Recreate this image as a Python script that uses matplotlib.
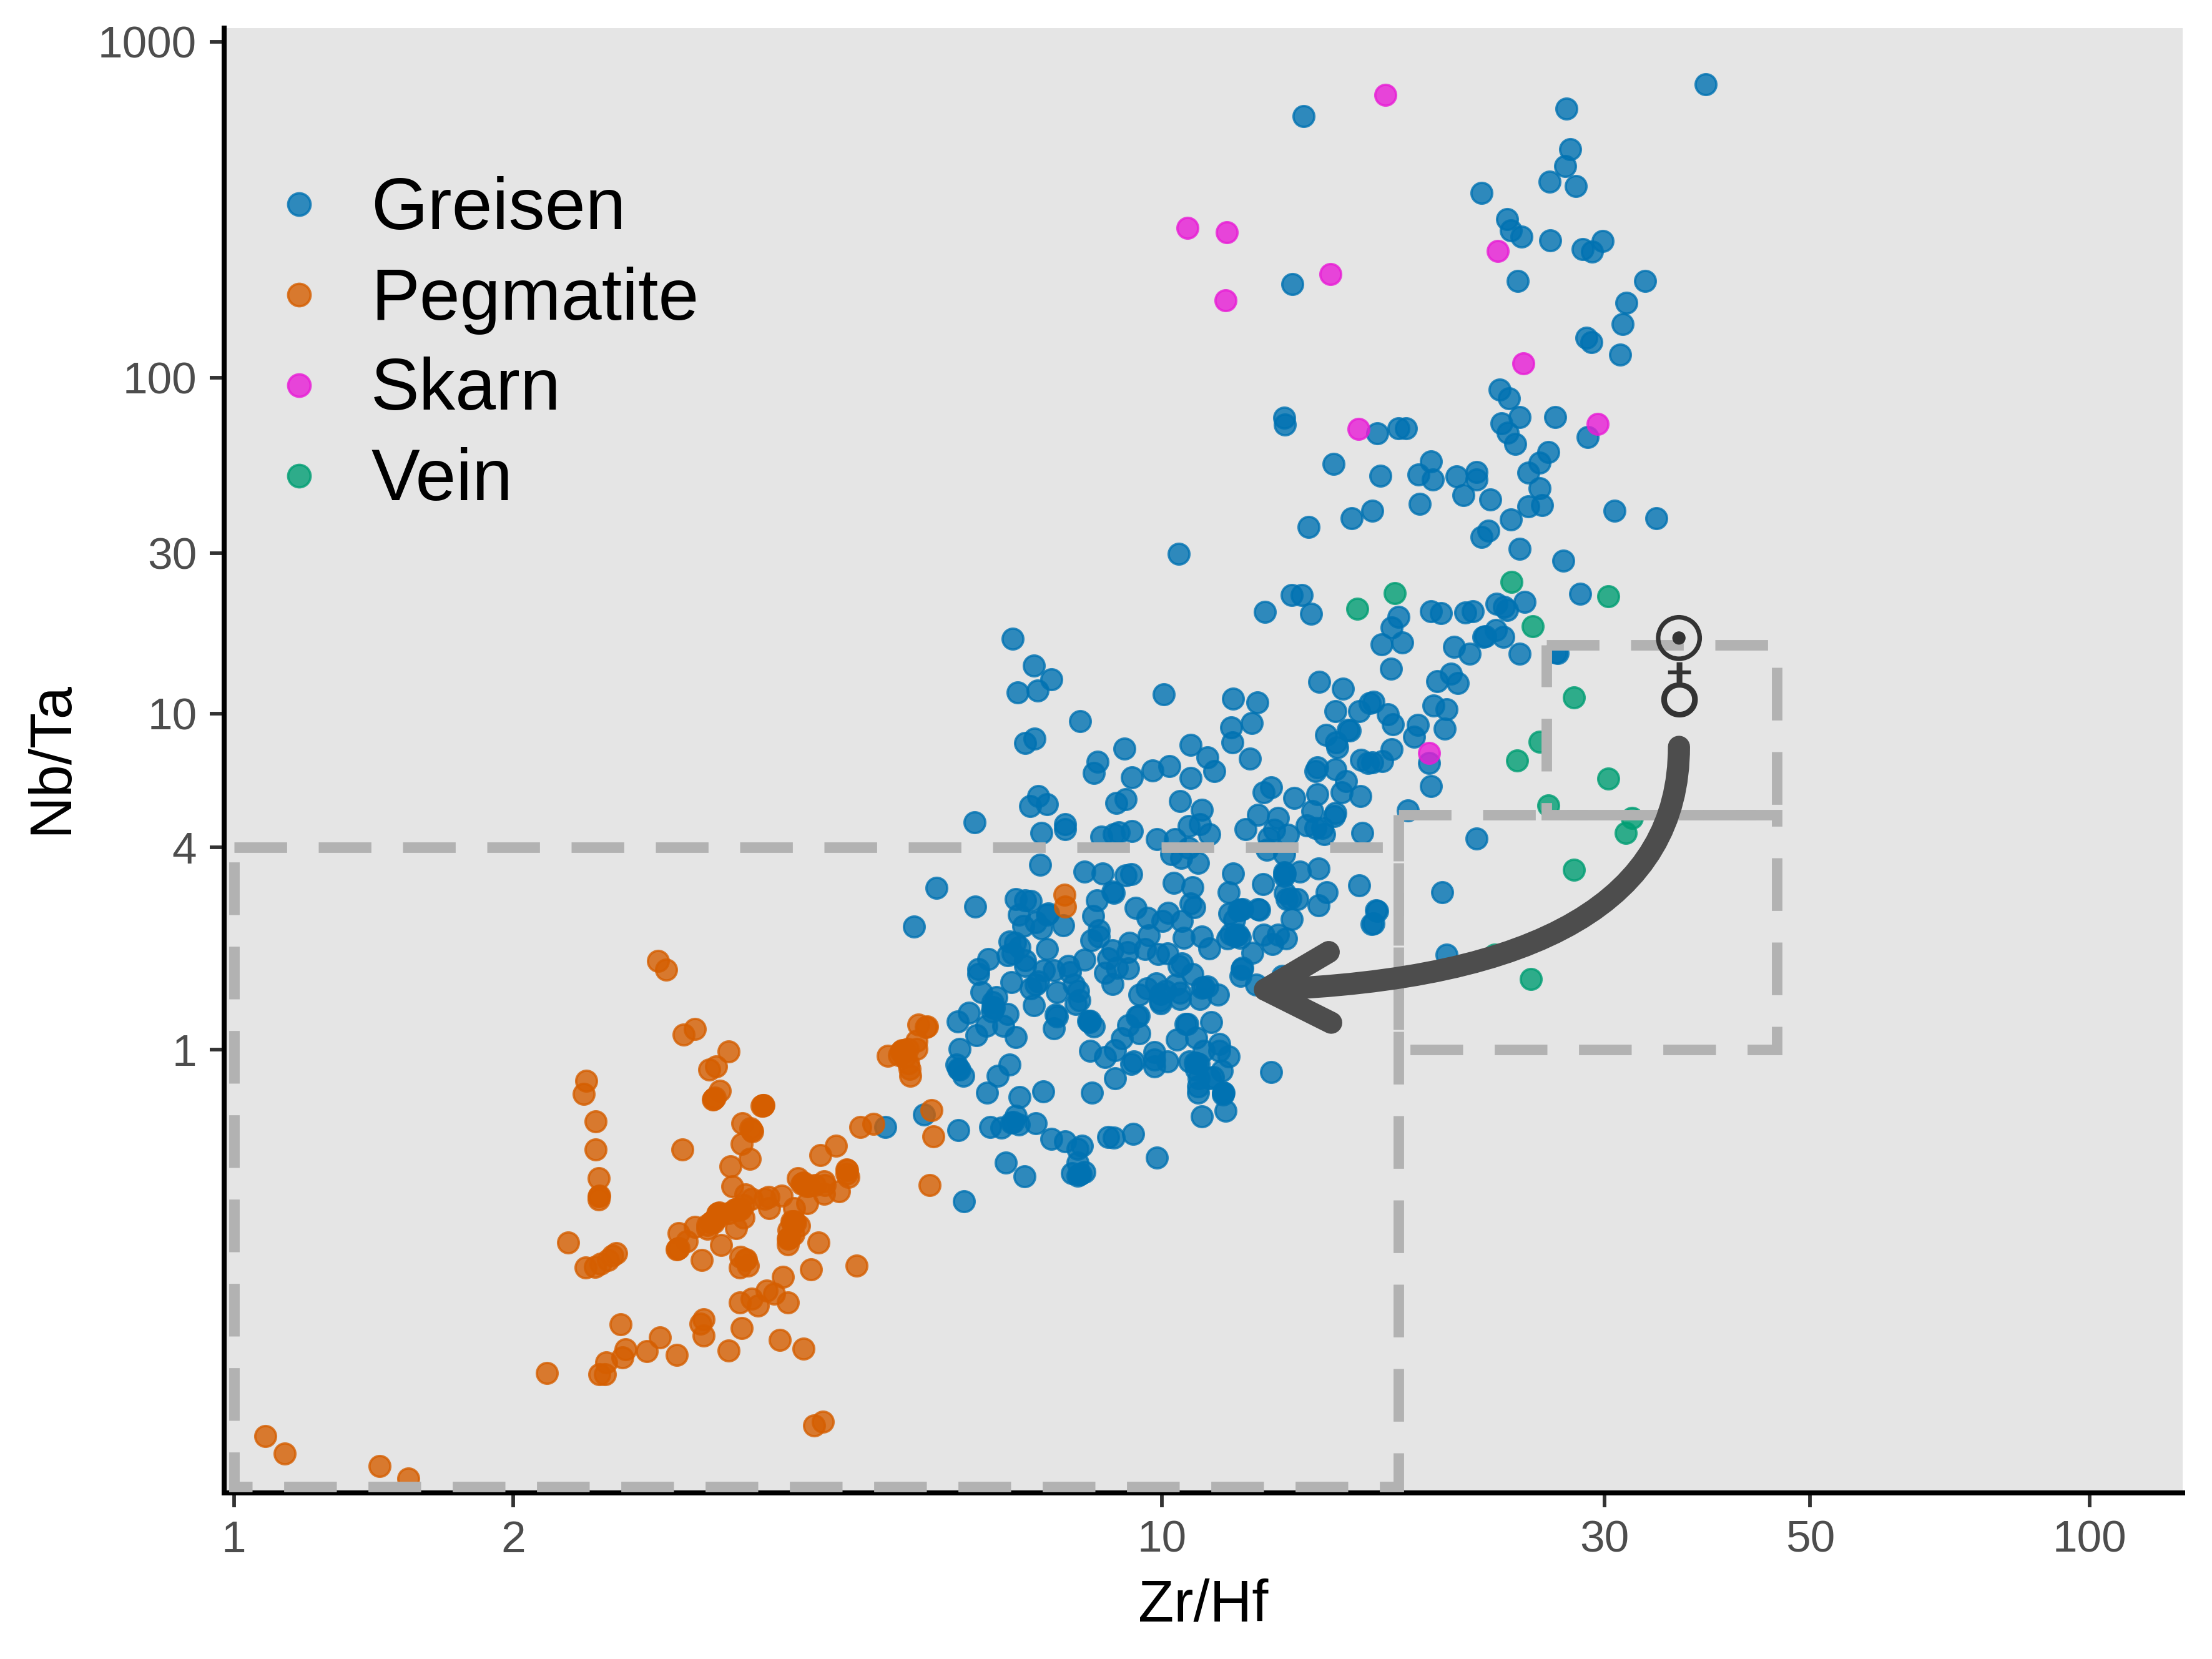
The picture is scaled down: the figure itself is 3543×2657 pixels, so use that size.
import numpy as np
import matplotlib
matplotlib.use("Agg")
import matplotlib.pyplot as plt
import matplotlib.patheffects as pe

plt.rcParams['font.family'] = ['Liberation Sans', 'DejaVu Sans']

# values, stored as [log10 Zr/Hf, log10 Nb/Ta]
greisen = np.array([
[1.153,2.779],[1.586,2.874],[1.436,2.801],[1.440,2.680],[1.435,2.630],[1.418,2.584],[1.446,2.570],[1.345,2.550],
[1.372,2.472],[1.376,2.439],[1.388,2.420],[1.419,2.409],[1.454,2.383],[1.464,2.375],[1.475,2.407],[1.384,2.288],
[1.521,2.288],[1.501,2.223],[1.497,2.160],[1.458,2.119],[1.463,2.106],[1.494,2.069],[1.141,2.279],[1.364,1.965],
[1.374,1.938],[1.386,1.883],[1.424,1.883],[1.366,1.864],[1.373,1.836],[1.381,1.803],[1.459,1.823],[1.132,1.881],
[1.133,1.861],[1.232,1.835],[1.255,1.849],[1.263,1.849],[1.185,1.743],[1.236,1.708],[1.290,1.751],[1.277,1.712],
[1.292,1.697],[1.318,1.706],[1.339,1.719],[1.339,1.697],[1.417,1.779],[1.407,1.747],[1.395,1.717],[1.407,1.671],
[1.325,1.651],[1.354,1.638],[1.278,1.625],[1.395,1.617],[1.410,1.621],[1.376,1.578],[1.227,1.604],[1.205,1.582],
[1.158,1.556],[1.488,1.604],[1.533,1.582],[1.352,1.545],[1.345,1.526],[1.386,1.491],[1.433,1.455],[1.451,1.357],
[1.391,1.333],[1.361,1.327],[1.372,1.309],[1.140,1.353],[1.151,1.353],[1.111,1.303],[1.161,1.297],[1.290,1.305],
[1.301,1.299],[1.327,1.301],[1.335,1.305],[1.255,1.288],[1.018,1.476],[1.369,1.318],[1.248,1.256],[1.237,1.206],
[1.259,1.212],[1.247,1.134],[1.315,1.199],[1.332,1.178],[1.349,1.230],[1.347,1.229],[1.360,1.249],[1.368,1.229],
[1.386,1.178],[1.425,1.182],[1.427,1.180],[1.297,1.097],[1.312,1.119],[1.319,1.091],[1.293,1.024],[1.307,1.013],
[1.305,0.955],[1.276,0.967],[1.272,0.931],[1.244,0.998],[1.249,0.968],[1.228,1.035],[1.248,0.894],[1.238,0.859],
[1.288,0.853],[1.290,0.784],[1.265,0.712],[1.339,0.628],[1.302,0.468],[1.307,0.283],[1.232,0.413],[1.228,0.375],
[1.227,0.855],[0.839,1.223],[0.862,1.143],[0.881,1.102],[0.845,1.063],[0.866,1.069],[1.002,1.058],[0.912,0.978],
[0.853,0.913],[0.863,0.926],[0.960,0.896],[1.077,1.045],[1.103,1.033],[1.097,0.972],[1.075,0.959],[1.076,0.914],
[1.095,0.866],[1.170,1.095],[1.195,1.074],[1.187,1.007],[1.213,1.007],[1.224,1.032],[1.177,0.937],[1.201,0.952],
[1.203,0.950],[1.188,0.914],[1.189,0.900],[1.215,0.862],[1.222,0.853],[1.187,0.835],[1.168,0.840],[1.166,0.829],
[1.199,0.799],[1.194,0.766],[1.214,0.755],[1.168,0.760],[1.143,0.749],[1.118,0.781],[1.110,0.766],[1.104,0.699],
[1.125,0.690],[1.090,0.656],[1.121,0.654],[1.162,0.710],[1.187,0.704],[1.186,0.695],[1.156,0.667],[1.173,0.660],
[1.175,0.641],[1.166,0.660],[1.216,0.645],[1.136,0.639],[1.115,0.630],[1.113,0.595],[1.132,0.582],[0.798,0.677],
[0.870,0.645],[0.858,0.725],[0.867,0.755],[0.876,0.730],[0.896,0.671],[0.896,0.656],[0.931,0.857],[0.927,0.823],
[0.968,0.810],[0.990,0.831],[1.008,0.844],[1.031,0.907],[1.049,0.870],[1.057,0.829],[1.031,0.809],[0.951,0.734],
[0.961,0.745],[1.020,0.740],[1.043,0.714],[1.029,0.665],[1.041,0.671],[1.051,0.641],[0.968,0.651],[0.935,0.634],
[0.948,0.641],[0.954,0.647],[0.995,0.626],[1.014,0.626],[1.029,0.600],[1.010,0.582],[1.021,0.571],[1.039,0.556],
[0.869,0.550],[0.757,0.481],[0.799,0.426],[0.917,0.530],[0.936,0.524],[0.961,0.519],[0.967,0.522],[1.013,0.496],
[0.948,0.467],[0.947,0.470],[0.930,0.444],[0.926,0.398],[0.972,0.422],[0.985,0.392],[1.007,0.407],[1.001,0.383],
[0.986,0.340],[1.024,0.333],[0.982,0.299],[0.965,0.318],[0.963,0.290],[0.947,0.296],[0.942,0.271],[0.932,0.355],
[0.932,0.336],[0.924,0.325],[0.917,0.268],[0.939,0.229],[0.952,0.243],[0.964,0.242],[0.947,0.195],[0.996,0.284],
[1.006,0.286],[1.018,0.249],[0.894,0.370],[0.843,0.448],[0.853,0.444],[0.859,0.442],[0.846,0.401],[0.878,0.405],
[0.876,0.402],[0.864,0.379],[0.851,0.368],[0.870,0.361],[0.876,0.299],[0.836,0.322],[0.842,0.318],[0.847,0.305],
[0.834,0.281],[0.839,0.286],[0.813,0.270],[0.802,0.240],[0.802,0.225],[0.853,0.266],[0.853,0.249],[0.873,0.236],
[0.884,0.236],[0.899,0.249],[0.901,0.230],[0.838,0.201],[0.806,0.171],[0.822,0.156],[0.859,0.182],[0.867,0.203],
[0.864,0.193],[0.887,0.171],[0.905,0.193],[0.910,0.175],[0.911,0.147],[0.907,0.136],[0.862,0.132],[0.818,0.126],
[0.819,0.124],[0.818,0.141],[0.817,0.113],[0.834,0.106],[0.792,0.110],[0.780,0.084],[0.811,0.071],[0.829,0.071],
[0.800,0.043],[0.843,0.037],[0.886,0.104],[0.887,0.099],[0.884,0.063],[0.921,0.086],[0.922,0.082],[0.923,0.085],
[0.927,0.069],[0.975,0.100],[0.973,0.099],[0.964,0.072],[0.976,0.048],[0.957,0.033],[0.950,-0.001],[0.923,-0.003],
[0.939,-0.023],[0.967,-0.042],[0.970,-0.036],[0.992,-0.008],[0.992,-0.050],[1.006,-0.036],[0.992,-0.029],[0.950,-0.086],
[0.976,0.163],[0.984,0.182],[0.994,0.197],[0.998,0.145],[0.999,0.165],[1.020,0.169],[1.015,0.193],[1.004,0.175],
[1.016,0.030],[1.026,0.076],[0.782,0.002],[0.779,-0.045],[0.781,-0.058],[0.782,-0.060],[0.786,-0.078],[0.836,-0.045],
[0.823,-0.078],[0.812,-0.128],[0.847,-0.141],[0.872,-0.125],[0.925,-0.128],[1.033,0.483],[1.077,0.524],[1.109,0.493],
[1.072,0.468],[1.132,0.528],[1.133,0.525],[1.132,0.517],[1.149,0.530],[1.169,0.539],[1.133,0.467],[1.135,0.448],
[1.139,0.450],[1.146,0.448],[1.178,0.468],[1.169,0.429],[1.213,0.489],[1.231,0.414],[1.226,0.374],[1.140,0.388],
[1.031,0.435],[1.035,0.424],[1.022,0.383],[1.043,0.336],[1.051,0.301],[1.073,0.405],[1.085,0.416],[1.087,0.418],
[1.083,0.414],[1.078,0.387],[1.105,0.416],[1.104,0.418],[1.071,0.331],[1.080,0.340],[1.079,0.338],[1.082,0.342],
[1.084,0.333],[1.074,0.344],[1.110,0.342],[1.125,0.342],[1.119,0.314],[1.134,0.331],[1.098,0.288],[1.086,0.240],
[1.087,0.243],[1.085,0.219],[1.102,0.193],[1.130,0.219],[1.022,0.257],[1.033,0.225],[1.049,0.188],[1.043,0.184],
[1.045,0.186],[1.061,0.164],[1.020,0.151],[1.041,0.151],[0.999,0.138],[1.028,0.076],[1.053,0.082],[1.037,0.035],
[1.062,0.017],[1.062,-0.004],[1.072,-0.020],[1.045,-0.004],[1.065,-0.063],[1.030,-0.035],[1.038,-0.041],[1.040,-0.043],
[1.036,-0.039],[1.037,-0.059],[1.040,-0.085],[1.039,-0.110],[1.052,-0.085],[1.066,-0.128],[1.118,-0.067],[1.067,-0.128],
[1.066,-0.134],[1.069,-0.182],[1.043,-0.199],[1.039,-0.128],[1.055,-0.082],[0.843,-0.197],[0.838,-0.217],[0.840,-0.215],
[0.815,-0.230],[0.827,-0.232],[0.846,-0.223],[0.864,-0.219],[0.744,-0.193],[0.781,-0.240],[0.702,-0.230],[0.881,-0.266],
[0.896,-0.273],[0.914,-0.286],[0.909,-0.296],[0.942,-0.260],[0.948,-0.262],[0.969,-0.251],[0.995,-0.322],[0.832,-0.336],
[0.852,-0.377],[0.903,-0.368],[0.911,-0.372],[0.909,-0.375],[0.913,-0.370],[0.917,-0.364],[0.909,-0.336],[0.787,-0.452],
[0.733,0.366],
])

pegmatite = np.array([
[0.895,0.461],[0.896,0.426],[0.457,0.264],[0.466,0.238],[0.497,0.061],[0.485,0.045],[0.533,-0.006],[0.520,-0.050],
[0.512,-0.059],[0.380,-0.093],[0.377,-0.132],[0.390,-0.214],[0.390,-0.297],[0.393,-0.383],[0.393,-0.436],[0.394,-0.434],
[0.393,-0.446],[0.360,-0.574],[0.379,-0.649],[0.389,-0.647],[0.395,-0.638],[0.403,-0.626],[0.408,-0.614],[0.412,-0.606],
[0.417,-0.818],[0.459,-0.857],[0.422,-0.892],[0.419,-0.916],[0.445,-0.898],[0.477,-0.909],[0.401,-0.931],[0.394,-0.967],
[0.400,-0.967],[0.337,-0.963],[0.506,-0.803],[0.503,-0.816],[0.506,-0.851],[0.547,-0.829],[0.533,-0.896],[0.588,-0.864],
[0.614,-0.890],[0.635,-1.108],[0.625,-1.119],[0.034,-1.151],[0.055,-1.203],[0.157,-1.240],[0.188,-1.277],[0.592,-0.677],
[0.622,-0.654],[0.671,-0.643],[0.597,-0.753],[0.574,-0.718],[0.582,-0.727],[0.558,-0.742],[0.565,-0.762],[0.545,-0.753],
[0.524,-0.123],[0.516,-0.149],[0.517,-0.147],[0.518,-0.143],[0.570,-0.167],[0.569,-0.168],[0.571,-0.166],[0.570,-0.165],
[0.548,-0.219],[0.558,-0.240],[0.557,-0.235],[0.559,-0.244],[0.547,-0.281],[0.556,-0.325],[0.535,-0.348],[0.483,-0.297],
[0.537,-0.407],[0.551,-0.431],[0.558,-0.444],[0.576,-0.439],[0.572,-0.444],[0.590,-0.435],[0.577,-0.472],[0.544,-0.476],
[0.545,-0.474],[0.543,-0.478],[0.546,-0.476],[0.542,-0.474],[0.540,-0.476],[0.549,-0.463],[0.533,-0.487],[0.522,-0.487],
[0.523,-0.485],[0.521,-0.489],[0.524,-0.489],[0.515,-0.513],[0.516,-0.511],[0.514,-0.515],[0.517,-0.514],[0.510,-0.522],
[0.521,-0.500],[0.549,-0.500],[0.541,-0.532],[0.497,-0.528],[0.510,-0.533],[0.525,-0.582],[0.479,-0.546],[0.488,-0.571],
[0.478,-0.593],[0.479,-0.591],[0.477,-0.595],[0.504,-0.626],[0.546,-0.617],[0.551,-0.626],[0.552,-0.624],[0.545,-0.649],
[0.554,-0.643],[0.630,-0.574],[0.603,-0.513],[0.604,-0.511],[0.602,-0.515],[0.605,-0.514],[0.601,-0.512],[0.598,-0.537],
[0.598,-0.561],[0.599,-0.559],[0.597,-0.563],[0.597,-0.580],[0.609,-0.524],[0.603,-0.550],[0.604,-0.472],[0.618,-0.457],
[0.608,-0.383],[0.613,-0.398],[0.614,-0.396],[0.612,-0.400],[0.618,-0.407],[0.619,-0.405],[0.626,-0.403],[0.636,-0.392],
[0.637,-0.403],[0.636,-0.429],[0.652,-0.422],[0.660,-0.357],[0.661,-0.359],[0.662,-0.379],[0.660,-0.370],[0.632,-0.314],
[0.649,-0.286],[0.675,-0.230],[0.689,-0.221],[0.752,-0.180],[0.754,-0.258],[0.750,-0.403],[0.705,-0.019],[0.721,-0.004],
[0.722,-0.006],[0.720,-0.002],[0.723,-0.003],[0.719,-0.005],[0.717,-0.017],[0.726,0.002],[0.723,-0.022],[0.728,-0.058],
[0.729,-0.078],[0.727,-0.041],[0.736,0.002],[0.738,0.074],[0.746,0.067],[0.747,0.069],[0.736,0.026],
])

skarn = np.array([
[1.241,2.842],[1.028,2.446],[1.070,2.433],[1.182,2.309],[1.069,2.230],[1.362,2.377],[1.390,2.043],[1.470,1.862],
[1.212,1.848],[1.288,0.883],
])

vein = np.array([
[1.377,1.392],[1.251,1.359],[1.211,1.312],[1.481,1.349],[1.400,1.260],[1.444,1.048],[1.407,0.916],[1.383,0.861],
[1.481,0.807],[1.417,0.727],[1.507,0.690],[1.500,0.645],[1.444,0.535],[1.359,0.283],[1.398,0.210],
])

deposit_types = ['Greisen', 'Pegmatite', 'Skarn', 'Vein']
deposit_data = [greisen, pegmatite, skarn, vein]
deposit_colors = ['#0072B2', '#D55E00', '#E81CD6', '#009E73']

x_ticks = [1, 2, 10, 30, 50, 100]
y_ticks = [1, 4, 10, 30, 100, 1000]

# dashed boxes: xmin, xmax, ymin, ymax
boxes = [(1, 18, 0.05, 4), (18, 46, 1, 5), (26, 46, 5, 16)]

W, H = 3543, 2657
fig = plt.figure(figsize=(W/300, H/300), dpi=300)
ax = fig.add_axes([359/W, 1-2391/H, (3496-359)/W, (2391-45)/H])
ax.set_facecolor('#E5E5E5')

for name, d, c in zip(deposit_types, deposit_data, deposit_colors):
    ax.scatter(10**d[:, 0], 10**d[:, 1], s=64, color=c, alpha=0.8, linewidths=0.9, label=name, zorder=2)

ax.set_xscale('log')
ax.set_yscale('log')
ax.set_xlim(10**-0.0106, 10**2.1004)
ax.set_ylim(10**-1.3197, 10**3.041)

for xmin, xmax, ymin, ymax in boxes:
    ax.plot([xmin, xmax, xmax, xmin, xmin], [ymax, ymax, ymin, ymin, ymax],
            color='#B2B2B2', lw=4.05, linestyle=(0, (5, 3)), dash_joinstyle='miter',
            dash_capstyle='butt', zorder=3)

ax.annotate('', xy=(12.2, 1.5), xytext=(36.1, 7.97), zorder=4,
            arrowprops=dict(arrowstyle='->,head_length=2.5,head_width=1.36', mutation_scale=10,
                            connectionstyle='angle3,angleA=90,angleB=2', lw=8.5, color='#4D4D4D',
                            shrinkA=0, shrinkB=0))

# sun sign thickened a little with a stroke, earth sign left plain
thick = [pe.withStroke(linewidth=0.9, foreground='#333333')]
ax.text(36.1, 16.2, '\u2609', family='DejaVu Sans', fontsize=23, color='#333333', ha='center', va='center',
        zorder=5, path_effects=thick)
ax.text(36.1, 11.06, '\u2641', family='DejaVu Sans', fontsize=25, color='#333333', ha='center', va='center',
        zorder=5)

for s in ['top', 'right']:
    ax.spines[s].set_visible(False)
for s in ['left', 'bottom']:
    ax.spines[s].set_linewidth(1.92)
    ax.spines[s].set_color('black')

ax.set_xticks(x_ticks)
ax.set_xticklabels([str(t) for t in x_ticks])
ax.set_yticks(y_ticks)
ax.set_yticklabels([str(t) for t in y_ticks])
ax.minorticks_off()
ax.tick_params(axis='both', length=5.5, width=1.4, color='#333333', labelcolor='#4D4D4D', labelsize=17.1, pad=5)

ax.set_xlabel('Zr/Hf', fontsize=22.5, color='black')
ax.set_ylabel('Nb/Ta', fontsize=22.5, color='black')
ax.xaxis.set_label_coords(0.5, -0.058)
ax.yaxis.set_label_coords(-0.074, 0.502)

ax.legend(loc='upper left', bbox_to_anchor=(0.0195, 0.8991), frameon=False, fontsize=28, borderpad=0, borderaxespad=0,
          handlelength=1, handletextpad=0.49, labelspacing=0.307, scatterpoints=1, scatteryoffsets=[0.485],
          markerscale=1.08)

fig.savefig('out.png', dpi=300)
